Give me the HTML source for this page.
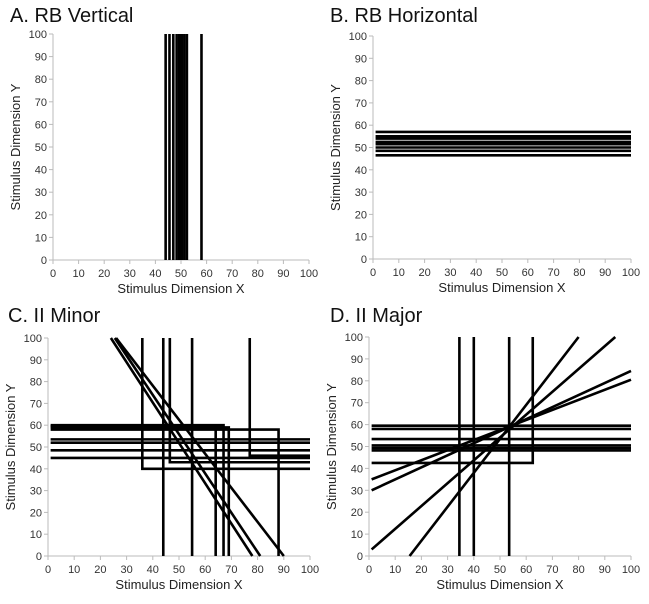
<!DOCTYPE html>
<html><head><meta charset="utf-8"><style>
body{margin:0;background:#fff;width:649px;height:604px;overflow:hidden}
svg{display:block;font-family:"Liberation Sans",sans-serif}
</style></head><body>
<svg id="c" width="649" height="604"></svg>
<script>
const ticks=[0,10,20,30,40,50,60,70,80,90,100];
// Panel A: vertical boundaries (x values)
const aVert=[44,45.5,47,48.3,49.3,50.3,51.3,52.3,58];
// Panel B: horizontal boundaries (y values)
const bHoriz=[57,55,54,52.5,51.5,50,48.5,46.5];
// Panel C: boundary polylines [x,y,...]
const cLines=[[1,53.5,100,53.5],[1,52,100,52],[1,48.5,100,48.5],[1,45,100,45],
[1,60,67,60,67,0],[1,59.5,64,59.5,64,0],[1,59,69,59,69,0],[1,58,88,58,88,0],
[36,100,36,40,100,40],[46.5,100,46.5,43,100,43],[77,100,77,46,100,46],
[44,100,44,0],[55,100,55,0],
[24,100,78,0],[25.5,100,81,0],[26,100,90,0]];
// Panel D
const dLines=[[34.5,100,34.5,0],[40,100,40,0],[53.5,100,53.5,0],
[1,42.5,62.5,42.5,62.5,100],
[1,59.5,100,59.5],[1,58,100,58],[1,53.4,100,53.4],[1,50.5,100,50.5],[1,49.3,100,49.3],[1,48.2,100,48.2],
[1,3,94,100],[15.5,0,80,100],[1,30,100,84.5],[1,35,100,80.5]];
const panels=[
 {id:'a',title:'A. RB Vertical',tx:10,ty:22,x0:53,x1:309,y0:260,y1:34,lines:aVert.map(v=>[v,0,v,100])},
 {id:'b',title:'B. RB Horizontal',tx:330,ty:22,x0:373,x1:631,y0:259,y1:36,lines:bHoriz.map(v=>[1,v,100,v])},
 {id:'c',title:'C. II Minor',tx:8,ty:322,x0:48,x1:310,y0:556,y1:338,lines:cLines},
 {id:'d',title:'D. II Major',tx:330,ty:322,x0:369,x1:631,y0:556,y1:337,lines:dLines}];
const svg=document.getElementById('c');const NS='http://www.w3.org/2000/svg';
function mk(t,a,p){const e=document.createElementNS(NS,t);for(const k in a)e.setAttribute(k,a[k]);(p||svg).appendChild(e);return e;}
panels.forEach(P=>{
 const g=mk('g',{});
 
 
 const sx=v=>P.x0+(P.x1-P.x0)*v/100, sy=v=>P.y0+(P.y1-P.y0)*v/100;
 const t=mk('text',{x:P.tx,y:P.ty,'font-size':20,fill:'#111'},g);t.textContent=P.title;
 
 
 mk('line',{x1:P.x0,y1:P.y0,x2:P.x1,y2:P.y0,stroke:'#bbb'},g);
 mk('line',{x1:P.x0,y1:P.y0,x2:P.x0,y2:P.y1,stroke:'#bbb'},g);
 ticks.forEach(v=>{
  mk('line',{x1:sx(v),y1:P.y0,x2:sx(v),y2:P.y0+4,stroke:'#bbb'},g);
  mk('line',{x1:P.x0-4,y1:sy(v),x2:P.x0,y2:sy(v),stroke:'#bbb'},g);
  const xl=mk('text',{x:sx(v),y:P.y0+17,'font-size':11,fill:'#333','text-anchor':'middle'},g);xl.textContent=v;
  
  
  const yl=mk('text',{x:P.x0-6,y:sy(v)+4,'font-size':11,fill:'#333','text-anchor':'end'},g);yl.textContent=v;
  
  
 });
 const xt=mk('text',{x:(P.x0+P.x1)/2,y:P.y0+33,'font-size':13,fill:'#222','text-anchor':'middle'},g);xt.textContent='Stimulus Dimension X';
 
 
 const cy=(P.y0+P.y1)/2,cx=P.x0-33;
 const yt=mk('text',{x:cx,y:cy,'font-size':13,fill:'#222','text-anchor':'middle',transform:`rotate(-90 ${cx} ${cy})`},g);yt.textContent='Stimulus Dimension Y';
 
 
 P.lines.forEach(L=>{
  const pts=[];for(let i=0;i<L.length;i+=2)pts.push(sx(L[i])+','+sy(L[i+1]));
  const pl=mk('polyline',{points:pts.join(' '),fill:'none',stroke:'#000','stroke-width':2.6},g);
  
  
 });
});
</script>
</body></html>
